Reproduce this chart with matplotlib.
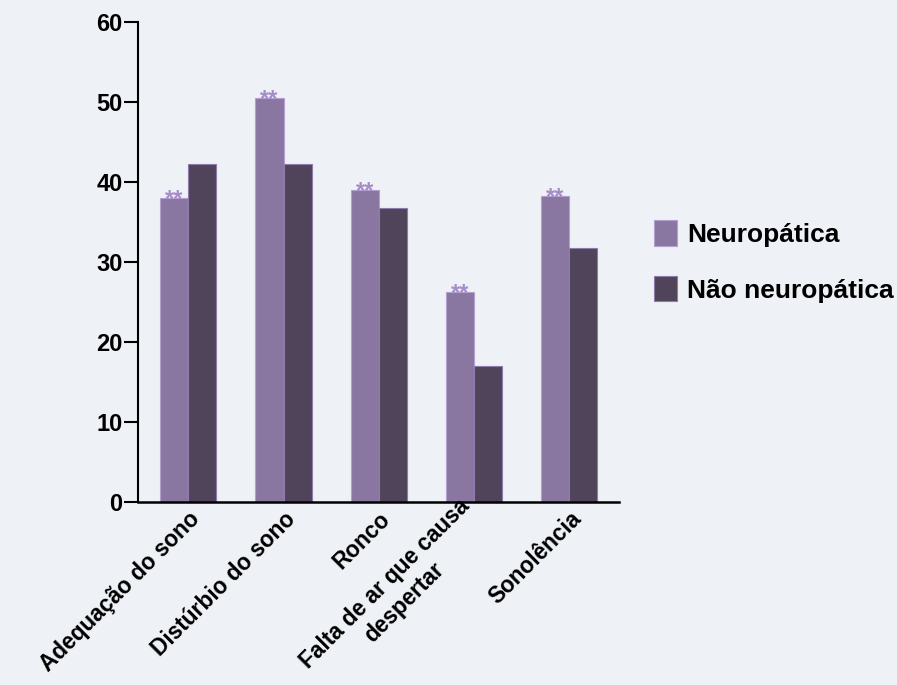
import matplotlib.pyplot as plt
import matplotlib.transforms as mtransforms
from matplotlib.font_manager import FontProperties
import numpy as np

# Data
categorias = ['Adequação do sono', 'Distúrbio do sono', 'Ronco',
              'Falta de ar que causa', 'Sonolência']
segunda_linha = 'despertar'   # continua o rotulo da 4a categoria
neuropatica = [38, 50.5, 39, 26.2, 38.2]
nao_neuropatica = [42.2, 42.2, 36.7, 17, 31.7]
marcas = ['**', '**', '**', '**', '**']

plt.rcParams['font.family'] = ['Liberation Sans', 'DejaVu Sans']
plt.rcParams['font.weight'] = 'bold'

bg = '#eef1f5'
cor_neuro = '#8a77a1'
cor_nao = '#4f4459'
fs_lab = 16.3

fig = plt.figure(figsize=(8.97, 6.85), dpi=100, facecolor=bg)
ax = fig.add_axes([0.1538, 0.2672, 0.5362, 0.7007], facecolor=bg)

x = np.arange(len(categorias))
w = 0.295
ax.bar(x - w / 2, neuropatica, w, color=cor_neuro, edgecolor='#b49fd0',
       linewidth=0.8, label='Neuropática')
ax.bar(x + w / 2, nao_neuropatica, w, color=cor_nao, edgecolor='#8f7bab',
       linewidth=0.8, label='Não neuropática')

# asteriscos de significancia
for xi, v, m in zip(x, neuropatica, marcas):
    ax.text(xi - w / 2, v - 1.0, m, ha='center', va='baseline',
            fontsize=17, color='#a58dc8')

ax.set_xlim(-0.528, 4.52)
ax.set_ylim(0, 60)
ax.set_yticks(range(0, 61, 10))
ax.tick_params(axis='y', length=10, width=1.5, labelsize=17, pad=1)
ax.tick_params(axis='x', length=0, pad=4)
ax.set_xticks(x)
ax.set_xticklabels(categorias, rotation=45, ha='right',
                   rotation_mode='anchor', fontsize=fs_lab)

# rotulo de duas linhas: primeira linha deslocada, segunda centrada abaixo
lbl = ax.get_xticklabels()[3]
base_tr = lbl.get_transform() + mtransforms.ScaledTranslation(
    -0.16, 0.13, fig.dpi_scale_trans)
lbl.set_transform(base_tr)

fp = FontProperties(family=['Liberation Sans'], weight='bold', size=fs_lab)
rend = fig.canvas.get_renderer()
w1 = rend.get_text_width_height_descent(categorias[3], fp, False)[0]
w2 = rend.get_text_width_height_descent(segunda_linha, fp, False)[0]
dl = (w1 - w2) / 2.0
lh = 1.2 * fs_lab * fig.dpi / 72.0
c = np.cos(np.radians(45))
dx = (-dl * c + lh * c) / fig.dpi
dy = (-dl * c - lh * c) / fig.dpi
ax.text(3, 0, segunda_linha, fontsize=fs_lab, rotation=45, ha='right',
        va='top', rotation_mode='anchor',
        transform=base_tr + mtransforms.ScaledTranslation(dx, dy, fig.dpi_scale_trans))

for s in ['top', 'right']:
    ax.spines[s].set_visible(False)
ax.spines['left'].set_linewidth(1.5)
ax.spines['bottom'].set_linewidth(1.8)

leg = ax.legend(loc='upper left', bbox_to_anchor=(0.703, 0.713),
                bbox_transform=fig.transFigure, frameon=False,
                prop={'size': 19, 'weight': 'bold'}, handlelength=0.85,
                handleheight=1.1, labelspacing=1.1, handletextpad=0.4)

fig.savefig('out.png', dpi=100, facecolor=bg)
